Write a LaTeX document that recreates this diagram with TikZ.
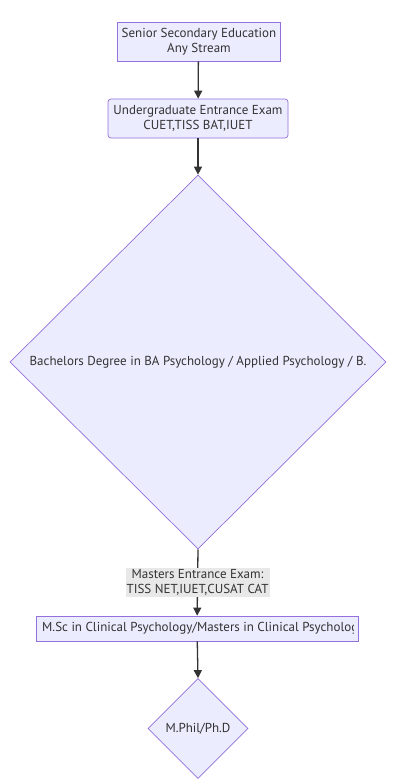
\documentclass[tikz,border=0pt]{standalone}
\usepackage{fontspec}
\setmainfont{PT Sans}
\usetikzlibrary{shapes.geometric,arrows.meta}
\definecolor{boxfill}{HTML}{ECECFF}
\definecolor{boxline}{HTML}{9370DB}
\definecolor{textgray}{HTML}{333333}
\definecolor{labelbg}{HTML}{E8E8E8}
\begin{document}
\begin{tikzpicture}[x=1pt,y=-1pt,
    every node/.style={text=textgray,font=\fontsize{13}{15}\selectfont},
    stepbox/.style={draw=boxline,fill=boxfill,line width=0.7pt,rectangle,inner sep=0pt},
    choice/.style={draw=boxline,fill=boxfill,line width=0.7pt,diamond,inner sep=0pt},
    flow/.style={draw=textgray,line width=1.3pt,-{Triangle[length=8pt,width=8pt]}}]
    \useasboundingbox (0,0) rectangle (408,784);
    \fill[white] (0,0) rectangle (408,784);
    % nodes
    \node[stepbox,minimum width=163,minimum height=39] (senior) at (198.5,41.5) {};
    \begin{scope}
        \clip (senior.south west) rectangle (275.5,22);
        \node[anchor=west,align=center,inner sep=0pt] (seniortxt) at (121.5,41.5) {Senior Secondary Education\\Any Stream};
    \end{scope}
    \node[stepbox,rounded corners=3pt,minimum width=180,minimum height=39,align=center] (ugexam) at (198,118.5) {Undergraduate Entrance Exam\\CUET,TISS BAT,IUET};
    \node[choice,minimum width=376,minimum height=374] (bachelors) at (198,362) {\makebox[0pt]{Bachelors Degree in BA Psychology / Applied Psychology / B.}};
    \node[stepbox,minimum width=322,minimum height=25] (msc) at (197,628.5) {};
    \begin{scope}
        \clip (msc.south west) rectangle (353,616);
        \node[anchor=west,inner sep=0pt] (msctxt) at (42,628.5) {M.Sc in Clinical Psychology/Masters in Clinical Psychology};
    \end{scope}
    \node[choice,minimum width=100,minimum height=100] (mphil) at (198,728.5) {\makebox[0pt]{M.Phil/Ph.D}};
    % connectors
    \draw[flow] (senior) -- (ugexam);
    \draw[flow] (ugexam) -- (bachelors.north);
    \draw[flow] (bachelors.south) -- node[fill=labelbg,inner sep=1pt,align=center] (mastersexam) {Masters Entrance Exam:\\TISS NET,IUET,CUSAT CAT} (msc);
    \draw[flow] (msc) -- (mphil.north);
\end{tikzpicture}
\end{document}
